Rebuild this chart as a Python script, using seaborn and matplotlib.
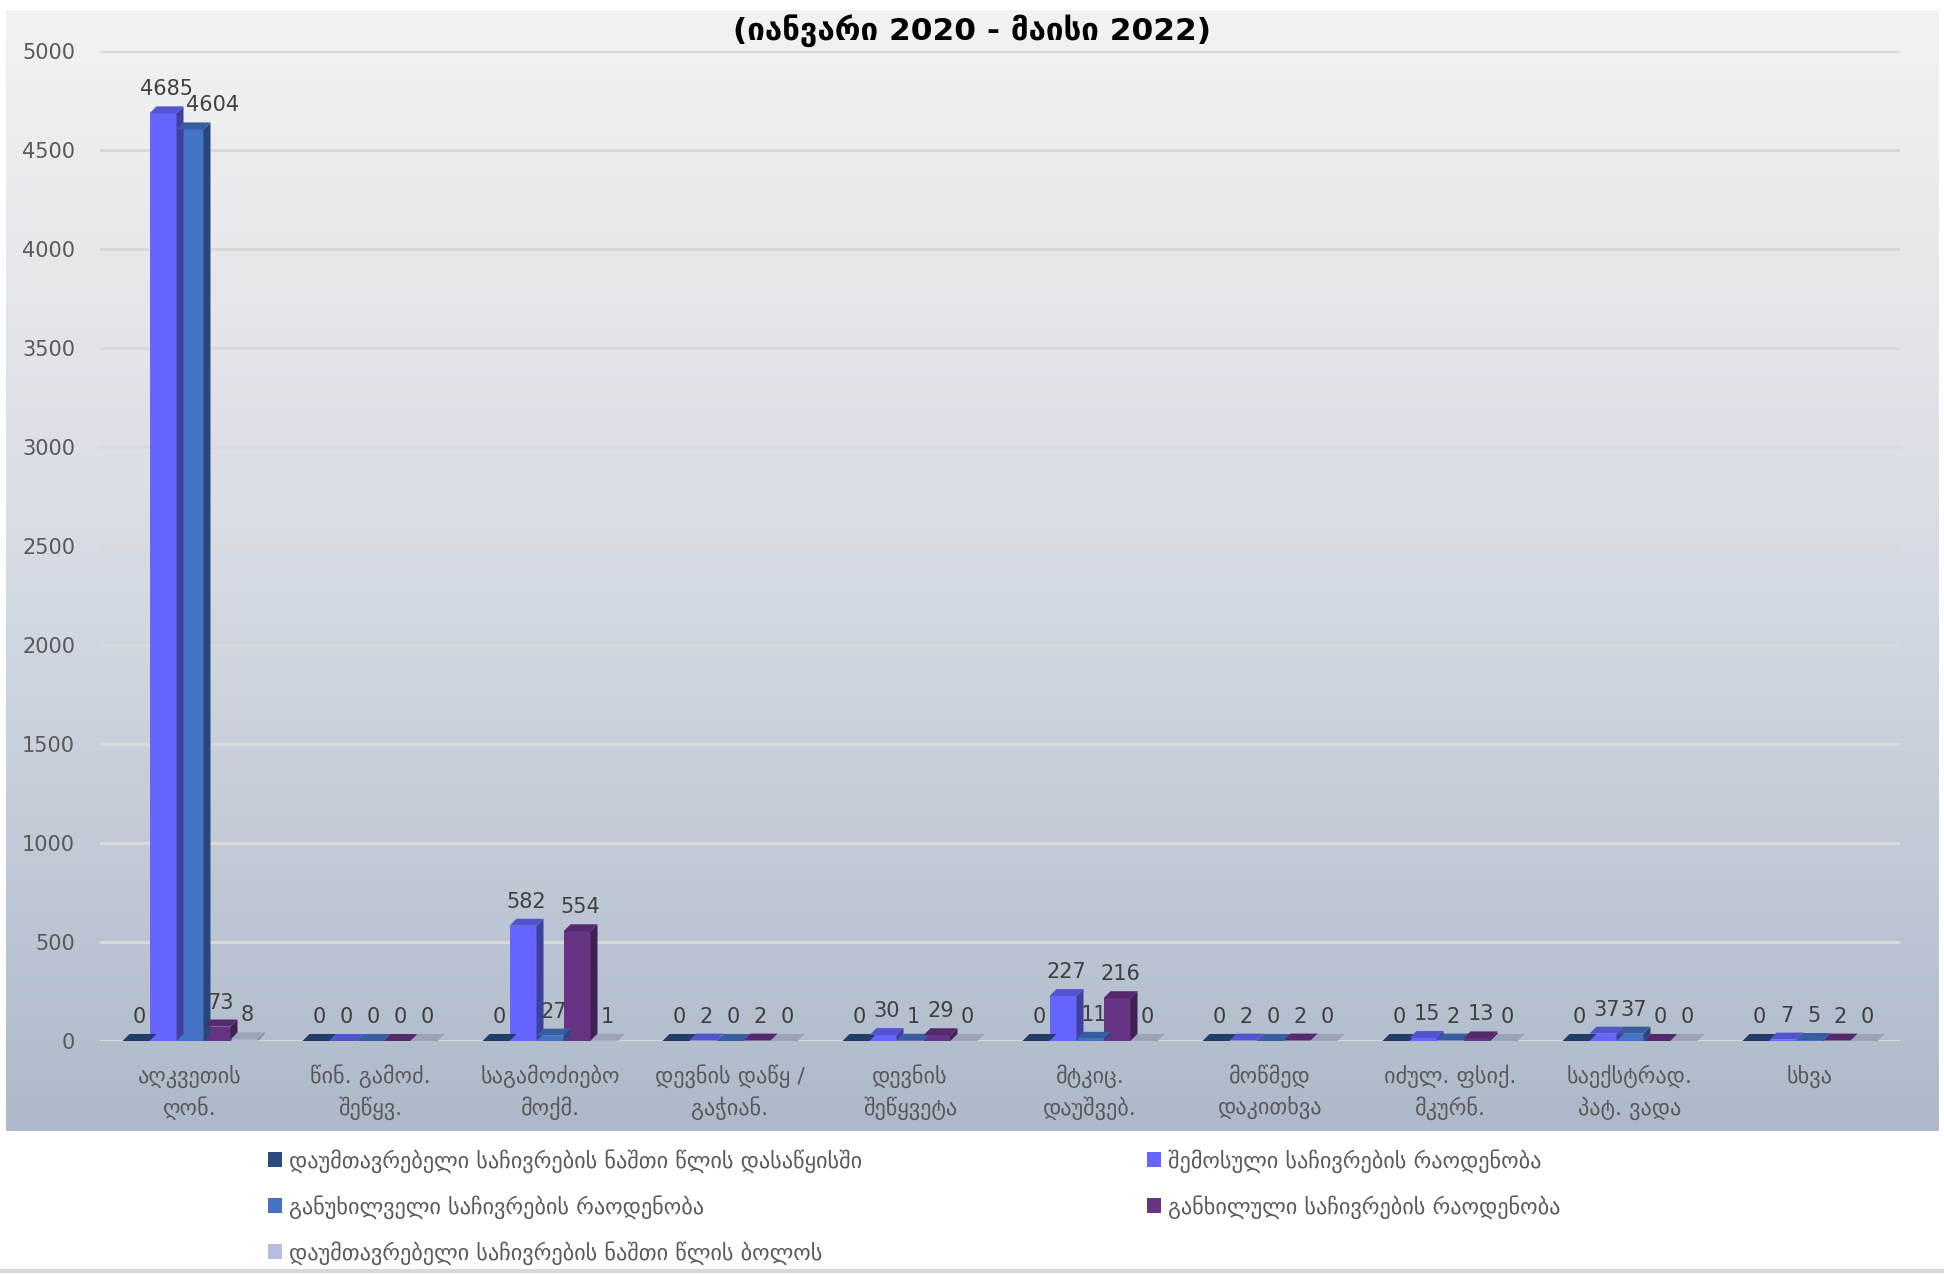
import numpy as np
import pandas as pd
import matplotlib
matplotlib.use("Agg")
import matplotlib.pyplot as plt
import seaborn as sns
from matplotlib.patches import Polygon
from matplotlib.colors import to_rgb, LinearSegmentedColormap

categories = ["აღკვეთის\nღონ.", "წინ. გამოძ.\nშეწყვ.", "საგამოძიებო\nმოქმ.",
              "დევნის დაწყ /\nგაჭიან.", "დევნის\nშეწყვეტა", "მტკიც.\nდაუშვებ.",
              "მოწმედ\nდაკითხვა", "იძულ. ფსიქ.\nმკურნ.", "საექსტრად.\nპატ. ვადა", "სხვა"]

series_names = ["დაუმთავრებელი საჩივრების ნაშთი წლის დასაწყისში",
                "შემოსული საჩივრების რაოდენობა",
                "განუხილველი საჩივრების რაოდენობა",
                "განხილული საჩივრების რაოდენობა",
                "დაუმთავრებელი საჩივრების ნაშთი წლის ბოლოს"]

remaining_start = [0, 0, 0, 0, 0, 0, 0, 0, 0, 0]
received = [4685, 0, 582, 2, 30, 227, 2, 15, 37, 7]
unreviewed = [4604, 0, 27, 0, 1, 11, 0, 2, 37, 5]
reviewed = [73, 0, 554, 2, 29, 216, 2, 13, 0, 2]
remaining_end = [8, 0, 1, 0, 0, 0, 0, 0, 0, 0]

title = "(იანვარი 2020 - მაისი 2022)"
yticks = [0, 500, 1000, 1500, 2000, 2500, 3000, 3500, 4000, 4500, 5000]

colors = ["#2B4A80", "#6666FF", "#4472C4", "#663385", "#B4BEDC"]

values = [remaining_start, received, unreviewed, reviewed, remaining_end]
rows = []
for s, vals in zip(series_names, values):
    for c, v in zip(categories, vals):
        rows.append({"category": c, "series": s, "value": v})
df = pd.DataFrame(rows)

sns.set_theme(style="white")
plt.rcParams['font.family'] = ['DejaVu Sans']

W, H = 1944, 1275
fig = plt.figure(figsize=(W / 100, H / 100), dpi=100)
fig.patch.set_facecolor("white")

# gradient background panel
bg = fig.add_axes([6 / W, 1 - 1131 / H, 1932 / W, 1121 / H], zorder=0)
cmap = LinearSegmentedColormap.from_list("g", ["#F2F2F2", "#D6DBE3", "#ADB9CA"])
grad = np.linspace(0, 1, 256).reshape(-1, 1)
bg.imshow(grad, aspect="auto", cmap=cmap, extent=[0, 1, 0, 1], origin="upper")
bg.set_axis_off()

ax_left, ax_right = 100 / W, 1900 / W
ax_bottom, ax_top = 1 - 1041 / H, 1 - 51 / H
ax = fig.add_axes([ax_left, ax_bottom, ax_right - ax_left, ax_top - ax_bottom], zorder=1)
ax.patch.set_alpha(0)

sns.barplot(data=df, x="category", y="value", hue="series", palette=colors,
            width=0.75, ax=ax, legend=False, saturation=1, linewidth=0, zorder=3)

ax.set_ylim(0, 5000)
ax.set_xlim(-0.5, len(categories) - 0.5)
ax.set_yticks(yticks)
ax.yaxis.grid(True, color="#D9D9D9", linewidth=2.2, zorder=0)
ax.set_axisbelow(True)
for sp in ax.spines.values():
    sp.set_visible(False)
ax.set_xlabel("")
ax.set_ylabel("")
ax.tick_params(axis="y", labelsize=15, labelcolor="#595959", length=0, pad=18)
ax.tick_params(axis="x", labelsize=16, labelcolor="#595959", length=0, pad=17)
for lbl in ax.get_xticklabels():
    lbl.set_linespacing(1.45)

# pseudo-3D faces computed from the bar patches
fig.canvas.draw()
inv = ax.transData.inverted()
p0 = inv.transform((0, 0))
p1 = inv.transform((7, 7))
ddx, ddy = p1[0] - p0[0], p1[1] - p0[1]

def shade(c, f):
    r, g, b = to_rgb(c)
    return (r * f, g * f, b * f)

patches = [p for p in ax.patches]
n_cat = len(categories)
for i, p in enumerate(patches):
    s_idx = i // n_cat
    col = colors[s_idx]
    x0 = p.get_x()
    w = p.get_width()
    h = p.get_height()
    x1 = x0 + w
    top = Polygon([(x0, h), (x1, h), (x1 + ddx, h + ddy), (x0 + ddx, h + ddy)],
                  closed=True, facecolor=shade(col, 0.82) if s_idx != 4 else "#9AA3B8",
                  edgecolor="none", zorder=4)
    side = Polygon([(x1, 0), (x1, h), (x1 + ddx, h + ddy), (x1 + ddx, ddy)],
                   closed=True, facecolor=shade(col, 0.62), edgecolor="none", zorder=4)
    ax.add_patch(side)
    ax.add_patch(top)
    val = int(round(h))
    xoff = 0
    if s_idx == 2 and val > 4000:
        xoff = 14
    ax.annotate(str(val), (x0 + w / 2 + ddx / 2, h + ddy), xytext=(xoff, 5),
                textcoords="offset points", ha="center", va="bottom",
                fontsize=15, color="#404040", zorder=6)

# title
fig.text(0.5, 1 - 31 / H, title, ha="center", va="center", fontsize=22.5,
         fontweight="bold", color="#000000")

# legends (row-major layout using two column legends)
handles = [matplotlib.patches.Patch(facecolor=c, edgecolor="none") for c in colors]
leg_kw = dict(frameon=False, fontsize=16, labelcolor="#595959", handlelength=0.65,
              handleheight=0.65, handletextpad=0.3, labelspacing=1.0, borderpad=0,
              borderaxespad=0)
leg1 = fig.legend([handles[0], handles[2], handles[4]],
                  [series_names[0], series_names[2], series_names[4]],
                  loc="upper left", bbox_to_anchor=(268 / W, 1 - 1149 / H), **leg_kw)
leg2 = fig.legend([handles[1], handles[3]],
                  [series_names[1], series_names[3]],
                  loc="upper left", bbox_to_anchor=(1147 / W, 1 - 1149 / H), **leg_kw)

# bottom separator line
fig.add_artist(matplotlib.lines.Line2D([0, 1], [1 - 1271 / H, 1 - 1271 / H],
                                       color="#D9D9D9", linewidth=3,
                                       transform=fig.transFigure))

fig.savefig("out.png", dpi=100)
